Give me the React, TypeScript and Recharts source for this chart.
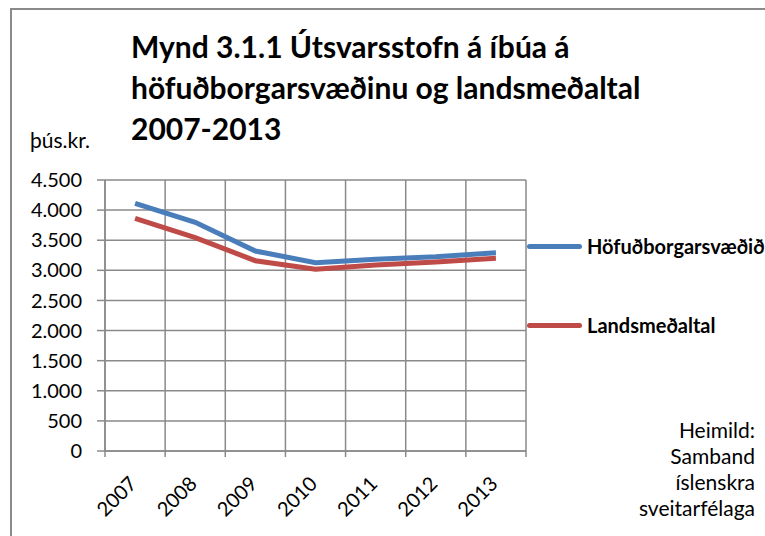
import React from 'react';
import { LineChart, Line, XAxis, YAxis, CartesianGrid } from 'recharts';

const years = ['2007', '2008', '2009', '2010', '2011', '2012', '2013'];
const hofudborgarsvaedid = [4113, 3797, 3321, 3127, 3183, 3226, 3293];
const landsmedaltal = [3864, 3542, 3160, 3017, 3089, 3138, 3200];
const yTicks = [0, 500, 1000, 1500, 2000, 2500, 3000, 3500, 4000, 4500];
const seriesNames = ['Höfuðborgarsvæðið', 'Landsmeðaltal'];
const titleLines = ['Mynd 3.1.1 Útsvarsstofn á íbúa á', 'höfuðborgarsvæðinu og landsmeðaltal', '2007-2013'];
const sourceLines = ['Heimild:', 'Samband', 'íslenskra', 'sveitarfélaga'];

const BLUE = '#4a7ebb';
const RED = '#be4b48';
const GRID = '#8a8a8a';
const FONT = 'Lato, "Open Sans", sans-serif';

const data = years.map((year, i) => ({
  year,
  hofud: hofudborgarsvaedid[i],
  lands: landsmedaltal[i],
}));

const fmt = (v: number) => v.toLocaleString('de-DE');

// x ás: merki á mörkum flokka, ártal skáhallt undir miðju
function YearTick(props: any) {
  const { x, y, payload, index, width } = props;
  const bw = (width || 421) / years.length;
  const left = x - bw / 2;
  const ax = y - 8;
  return (
    <g>
      <line x1={left} y1={ax} x2={left} y2={ax + 6} stroke={GRID} strokeWidth={1.5} />
      {index === years.length - 1 && (
        <line x1={x + bw / 2} y1={ax} x2={x + bw / 2} y2={ax + 6} stroke={GRID} strokeWidth={1.5} />
      )}
      <text
        x={x + 3}
        y={y + 26}
        textAnchor="end"
        transform={`rotate(-45, ${x + 3}, ${y + 26})`}
        fontSize={20}
        fontFamily={FONT}
        fill="#000"
      >
        {payload.value}
      </text>
    </g>
  );
}

function SideLegend() {
  const colors = [BLUE, RED];
  return (
    <div style={{ position: 'absolute', left: 527, top: 234, fontFamily: FONT }}>
      {seriesNames.map((name, i) => (
        <div
          key={name}
          style={{ display: 'flex', alignItems: 'center', height: 24, marginBottom: i === 0 ? 55 : 0 }}
        >
          <div style={{ width: 55, height: 5, background: colors[i], borderRadius: 3, marginRight: 5 }} />
          <span style={{ fontWeight: 700, fontSize: 20, color: '#000', whiteSpace: 'nowrap' }}>{name}</span>
        </div>
      ))}
    </div>
  );
}

export default function App() {
  return (
    <div style={{ position: 'absolute', left: 0, top: 0, width: 765, height: 536, overflow: 'hidden', background: '#fff' }}>
      <div style={{ position: 'absolute', left: 10, top: 8, width: 800, height: 600, border: `2px solid ${GRID}` }} />
      <div
        style={{
          position: 'absolute',
          left: 131,
          top: 26,
          fontFamily: FONT,
          fontWeight: 700,
          fontSize: 30,
          lineHeight: '41px',
          color: '#000',
          whiteSpace: 'nowrap',
        }}
      >
        {titleLines.map((t) => (
          <div key={t}>{t}</div>
        ))}
      </div>
      <div
        style={{
          position: 'absolute',
          left: 30,
          top: 129,
          fontFamily: FONT,
          fontSize: 21,
          lineHeight: '21px',
          color: '#000',
        }}
      >
        þús.kr.
      </div>
      <div
        style={{
          position: 'absolute',
          right: 10,
          top: 417,
          fontFamily: FONT,
          fontSize: 21,
          lineHeight: '26px',
          textAlign: 'right',
          color: '#000',
        }}
      >
        {sourceLines.map((t) => (
          <div key={t}>{t}</div>
        ))}
      </div>
      <LineChart
        width={765}
        height={536}
        data={data}
        margin={{ top: 180, right: 239, bottom: 0, left: 10 }}
        style={{ position: 'absolute', left: 0, top: 0 }}
      >
        <CartesianGrid
          stroke={GRID}
          strokeWidth={1.5}
          verticalCoordinatesGenerator={({ offset }: any) =>
            years.map((_, i) => offset.left + (i * offset.width) / years.length).concat(offset.left + offset.width)
          }
        />
        <XAxis
          dataKey="year"
          scale="band"
          height={85}
          tickLine={false}
          axisLine={{ stroke: GRID, strokeWidth: 1.5 }}
          tick={<YearTick />}
          interval={0}
        />
        <YAxis
          width={95}
          domain={[0, 4500]}
          ticks={yTicks}
          interval={0}
          tickFormatter={fmt}
          tickSize={8}
          tickMargin={15}
          axisLine={{ stroke: GRID, strokeWidth: 1.5 }}
          tickLine={{ stroke: GRID, strokeWidth: 1.5 }}
          tick={{ fontSize: 20, fill: '#000', fontFamily: FONT }}
        />
        <Line
          dataKey="hofud"
          name={seriesNames[0]}
          stroke={BLUE}
          strokeWidth={5}
          dot={false}
          type="linear"
          isAnimationActive={false}
        />
        <Line
          dataKey="lands"
          name={seriesNames[1]}
          stroke={RED}
          strokeWidth={5}
          dot={false}
          type="linear"
          isAnimationActive={false}
        />
      </LineChart>
      <SideLegend />
    </div>
  );
}
